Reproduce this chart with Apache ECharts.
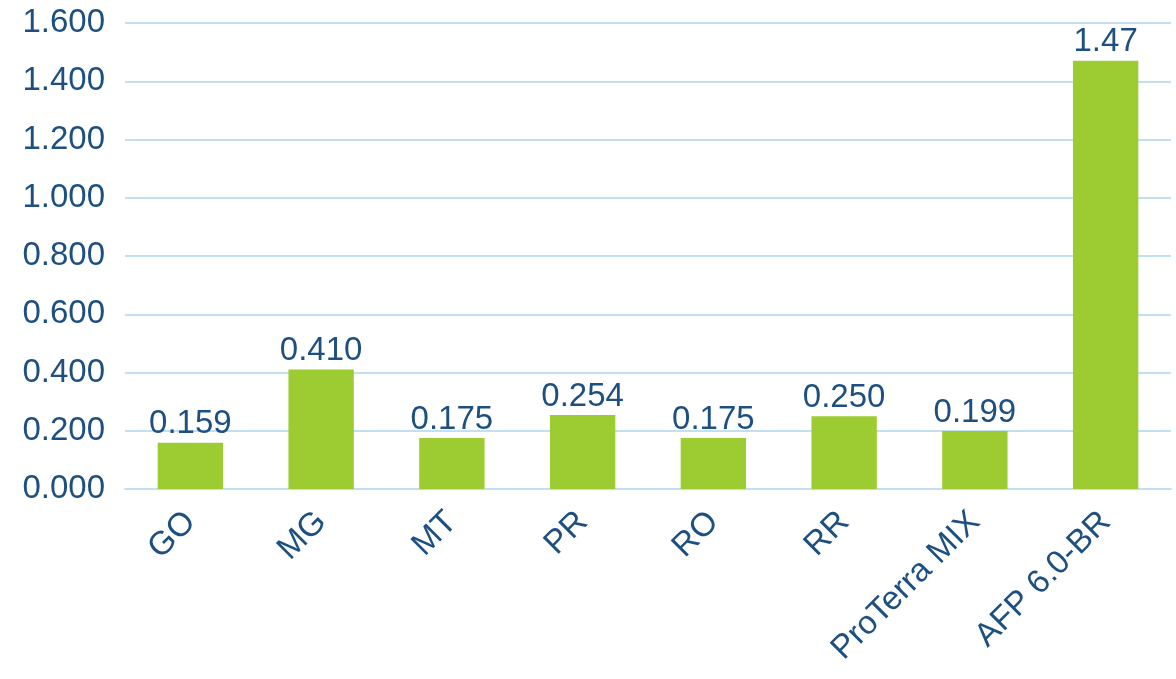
<!DOCTYPE html>
<html>
<head>
<meta charset="utf-8">
<script src="https://cdn.jsdelivr.net/npm/echarts@6/dist/echarts.min.js"></script>
<style>html,body{margin:0;padding:0;background:#fff}#c{width:1176px;height:679px}</style>
</head>
<body>
<div id="c"></div>
<script>
var categories = ['GO', 'MG', 'MT', 'PR', 'RO', 'RR', 'ProTerra MIX', 'AFP 6.0-BR'];
var values = [0.159, 0.410, 0.175, 0.254, 0.175, 0.250, 0.199, 1.47];
var valueLabels = ['0.159', '0.410', '0.175', '0.254', '0.175', '0.250', '0.199', '1.47'];

var textColor = '#1D4F80';
var chart = echarts.init(document.getElementById('c'));
chart.setOption({
  animation: false,
  grid: { left: 125, right: 5, top: 23, bottom: 190, containLabel: false },
  xAxis: {
    type: 'category',
    data: categories,
    axisLine: { show: true, lineStyle: { color: '#C3DFF4', width: 2 } },
    axisTick: { show: false },
    axisLabel: {
      rotate: 45, margin: 28, color: textColor,
      fontFamily: 'Liberation Sans', fontSize: 33
    }
  },
  yAxis: {
    type: 'value', min: 0, max: 1.6, interval: 0.2,
    axisLine: { show: false }, axisTick: { show: false },
    splitLine: { lineStyle: { color: '#C3DFF4', width: 2 } },
    axisLabel: {
      margin: 20, color: textColor, fontFamily: 'Liberation Sans', fontSize: 33,
      formatter: function (v) { return v.toFixed(3); }
    }
  },
  series: [{
    type: 'bar',
    data: values,
    barWidth: '50%',
    itemStyle: { color: '#9DCB32' },
    label: {
      show: true, position: 'top', distance: 2, color: textColor,
      fontFamily: 'Liberation Sans', fontSize: 33,
      formatter: function (p) { return valueLabels[p.dataIndex]; }
    }
  }]
});
</script>
</body>
</html>
